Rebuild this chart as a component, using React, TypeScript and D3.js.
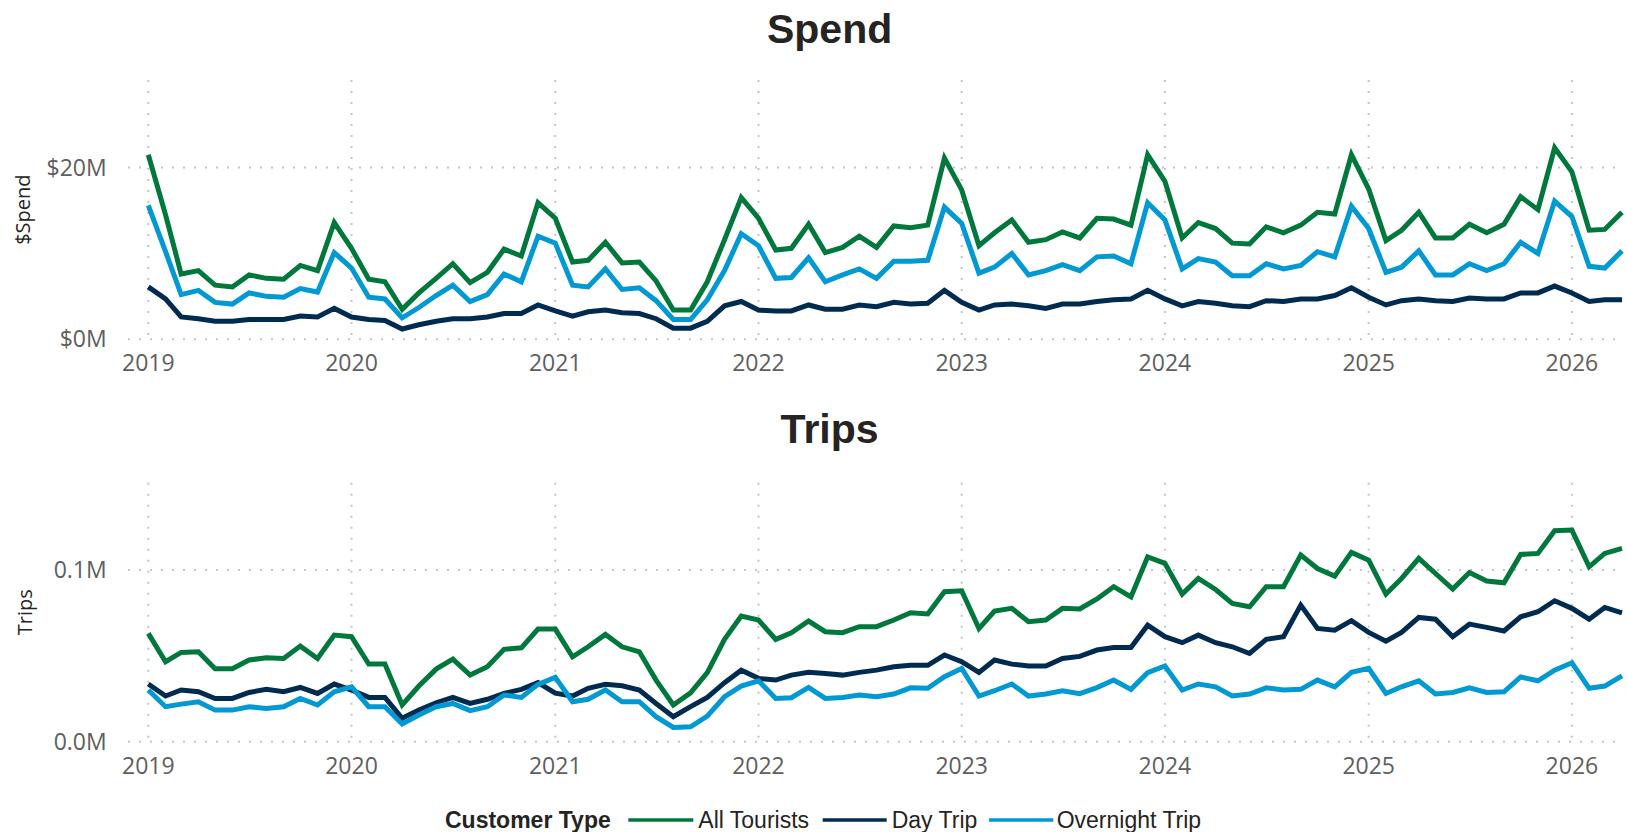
import React from "react";
import * as d3 from "d3";

// Monthly periods Jan 2019 .. Apr 2026
const startYear = 2019;
const monthCount = 88;
const months: Date[] = Array.from({ length: monthCount }, (_, i) =>
  new Date(Date.UTC(startYear + Math.floor(i / 12), i % 12, 1))
);

const yearTicks = [2019, 2020, 2021, 2022, 2023, 2024, 2025, 2026];

const seriesNames = ["All Tourists", "Day Trip", "Overnight Trip"];
const seriesColors = ["#00783C", "#002B50", "#0099D4"];

// Spend ($M)
const spendAll = [
  21.5, 14.5, 7.6, 8.0, 6.3, 6.1, 7.5, 7.1, 7.0, 8.6, 8.0, 13.6,
  10.6, 7.0, 6.7, 3.5, 5.4, 7.1, 8.8, 6.6, 7.8, 10.5, 9.7, 15.9,
  14.1, 9.0, 9.2, 11.3, 8.9, 9.0, 6.8, 3.4, 3.4, 6.7, 11.6, 16.5,
  14.1, 10.4, 10.6, 13.4, 10.1, 10.7, 12.0, 10.7, 13.2, 13.0, 13.3, 21.1,
  17.4, 10.9, 12.4, 13.9, 11.3, 11.6, 12.5, 11.8, 14.1, 14.0, 13.3, 21.5,
  18.4, 11.8, 13.6, 12.9, 11.2, 11.1, 13.1, 12.4, 13.3, 14.8, 14.6, 21.5,
  17.5, 11.5, 12.7, 14.8, 11.8, 11.8, 13.4, 12.4, 13.4, 16.6, 15.1, 22.3,
  19.5, 12.7, 12.8, 14.8,
];
const spendDay = [
  6.1, 4.7, 2.6, 2.4, 2.1, 2.1, 2.3, 2.3, 2.3, 2.7, 2.6, 3.6,
  2.6, 2.3, 2.2, 1.2, 1.7, 2.1, 2.4, 2.4, 2.6, 3.0, 3.0, 4.0,
  3.3, 2.7, 3.2, 3.4, 3.1, 3.0, 2.4, 1.3, 1.3, 2.1, 3.9, 4.4,
  3.4, 3.3, 3.3, 4.0, 3.5, 3.5, 4.0, 3.8, 4.3, 4.1, 4.2, 5.7,
  4.3, 3.4, 4.0, 4.1, 3.9, 3.6, 4.1, 4.1, 4.4, 4.6, 4.7, 5.7,
  4.7, 3.9, 4.4, 4.2, 3.9, 3.8, 4.5, 4.4, 4.7, 4.7, 5.1, 6.0,
  4.9, 4.0, 4.5, 4.7, 4.5, 4.4, 4.8, 4.7, 4.7, 5.4, 5.4, 6.2,
  5.4, 4.4, 4.6, 4.6,
];
const spendOvernight = [
  15.6, 10.2, 5.2, 5.7, 4.3, 4.1, 5.4, 5.0, 4.9, 5.9, 5.5, 10.1,
  8.3, 4.9, 4.7, 2.5, 3.7, 5.1, 6.3, 4.4, 5.2, 7.6, 6.7, 12.0,
  11.2, 6.3, 6.1, 8.2, 5.8, 6.0, 4.5, 2.3, 2.3, 4.6, 8.0, 12.3,
  10.9, 7.1, 7.2, 9.5, 6.7, 7.5, 8.2, 7.1, 9.1, 9.1, 9.2, 15.4,
  13.5, 7.7, 8.4, 10.0, 7.5, 8.0, 8.7, 8.0, 9.6, 9.7, 8.8, 15.9,
  13.9, 8.2, 9.4, 9.0, 7.4, 7.4, 8.8, 8.2, 8.6, 10.2, 9.6, 15.5,
  12.9, 7.8, 8.4, 10.3, 7.5, 7.5, 8.8, 8.0, 8.8, 11.3, 10.0, 16.1,
  14.3, 8.5, 8.3, 10.3,
];

// Trips (thousands)
const tripsAll = [
  63.1, 46.6, 52.0, 52.4, 42.5, 42.5, 47.6, 48.9, 48.5, 55.7, 48.5, 62.1,
  61.2, 45.2, 45.2, 21.4, 32.4, 42.3, 48.1, 38.8, 43.7, 53.8, 54.7, 65.6,
  65.6, 49.5, 55.3, 62.5, 55.3, 52.4, 35.9, 21.4, 28.5, 40.2, 59.6, 73.2,
  70.9, 59.6, 63.5, 70.3, 64.1, 63.5, 67.0, 67.0, 70.9, 75.1, 74.4, 87.4,
  87.9, 66.0, 76.1, 77.7, 69.9, 70.9, 77.7, 77.3, 83.2, 90.3, 84.4, 107.7,
  103.9, 86.0, 95.1, 88.7, 80.6, 78.6, 90.3, 90.3, 108.7, 100.9, 96.5, 110.3,
  105.8, 86.0, 95.1, 106.8, 98.0, 88.9, 98.6, 93.6, 92.6, 109.1, 109.7, 122.9,
  123.3, 101.9, 109.7, 112.6,
];
const tripsDay = [
  33.6, 26.6, 30.1, 29.1, 25.2, 25.2, 28.7, 30.5, 29.1, 31.6, 28.1, 33.6,
  30.1, 25.8, 25.8, 13.6, 18.4, 22.7, 25.8, 22.3, 24.7, 28.1, 30.5, 34.4,
  28.3, 26.6, 31.1, 33.4, 32.6, 30.1, 22.3, 14.6, 20.4, 25.8, 34.4, 41.7,
  36.9, 35.9, 38.8, 40.4, 39.8, 38.8, 40.4, 41.7, 43.7, 44.5, 44.5, 50.5,
  46.6, 40.4, 47.6, 45.2, 44.1, 44.1, 48.5, 49.7, 53.4, 54.9, 54.9, 67.9,
  61.2, 57.7, 62.1, 57.7, 55.3, 51.4, 59.6, 61.2, 79.6, 66.0, 65.0, 70.5,
  63.7, 58.6, 63.7, 72.4, 71.4, 61.2, 68.5, 66.6, 64.5, 72.8, 75.7, 82.1,
  77.7, 71.4, 78.2, 75.1,
];
const tripsOvernight = [
  30.1, 20.4, 21.9, 23.3, 18.4, 18.4, 20.4, 19.4, 20.4, 25.2, 21.4, 29.1,
  32.0, 20.4, 20.4, 10.3, 15.5, 20.4, 22.3, 18.1, 20.4, 27.2, 25.8, 33.4,
  37.5, 23.3, 24.7, 30.1, 23.3, 23.3, 14.6, 8.3, 8.7, 14.9, 26.2, 32.4,
  35.5, 25.2, 25.6, 31.6, 25.2, 25.8, 27.2, 26.2, 27.8, 31.4, 31.1, 37.9,
  42.7, 26.6, 29.7, 33.6, 26.6, 27.8, 29.7, 28.0, 31.5, 35.9, 30.5, 40.2,
  44.1, 30.1, 33.6, 32.0, 26.6, 27.8, 31.4, 30.1, 30.5, 35.9, 32.0, 40.4,
  42.7, 28.1, 32.0, 35.5, 27.8, 28.7, 31.4, 28.7, 29.1, 37.7, 35.5, 41.7,
  46.0, 31.1, 32.4, 38.4,
];

const spendTicks = [0, 20];
const spendTickLabels = ["$0M", "$20M"];
const tripsTicks = [0, 100];
const tripsTickLabels = ["0.0M", "0.1M"];

const W = 1627;
const H = 832;
const tickFont = "'Open Sans', 'Noto Sans', sans-serif";
const titleFont = "'Liberation Sans', Arial, sans-serif";

const x = d3
  .scaleUtc()
  .domain([months[0], months[months.length - 1]])
  .range([148.3, 1622]);

type PanelProps = {
  title: string;
  titleY: number;
  axisTitle: string;
  axisTitleX: number;
  top: number;
  bottom: number;
  yMax: number;
  ticks: number[];
  tickLabels: string[];
  series: number[][];
};

function Panel(p: PanelProps) {
  const y = d3.scaleLinear().domain([0, p.yMax]).range([p.bottom, p.top]);
  const line = d3
    .line<number>()
    .x((_, i) => x(months[i]))
    .y((d) => y(d));
  const midY = (p.top + p.bottom) / 2;
  return (
    <g>
      <text
        x={829.6}
        y={p.titleY}
        textAnchor="middle"
        fontFamily={titleFont}
        fontWeight="bold"
        fontSize={41}
        fill="#252423"
      >
        {p.title}
      </text>
      {/* horizontal gridlines */}
      {p.ticks.map((t) => (
        <line
          key={"h" + t}
          x1={128}
          x2={1624}
          y1={y(t)}
          y2={y(t)}
          stroke="#C8C6C4"
          strokeWidth={2}
          strokeDasharray="2 9"
        />
      ))}
      {/* vertical gridlines */}
      {yearTicks.map((yr) => {
        const xx = x(new Date(Date.UTC(yr, 0, 1)));
        return (
          <line
            key={"v" + yr}
            x1={xx}
            x2={xx}
            y1={p.top}
            y2={p.bottom}
            stroke="#C8C6C4"
            strokeWidth={2}
            strokeDasharray="2 9"
          />
        );
      })}
      {p.ticks.map((t, i) => (
        <text
          key={"yl" + t}
          x={106.7}
          y={y(t)}
          dy="0.35em"
          textAnchor="end"
          fontFamily={tickFont}
          fontSize={23}
          fill="#605E5C"
        >
          {p.tickLabels[i]}
        </text>
      ))}
      {yearTicks.map((yr) => (
        <text
          key={"xl" + yr}
          x={x(new Date(Date.UTC(yr, 0, 1)))}
          y={p.bottom + 32}
          textAnchor="middle"
          fontFamily={tickFont}
          fontSize={23}
          fill="#605E5C"
        >
          {yr}
        </text>
      ))}
      <text
        transform={`translate(${p.axisTitleX},${midY}) rotate(-90)`}
        textAnchor="middle"
        dy="0.35em"
        fontFamily={tickFont}
        fontSize={20}
        fill="#252423"
      >
        {p.axisTitle}
      </text>
      {p.series.map((s, i) => (
        <path
          key={"s" + i}
          d={line(s) || ""}
          fill="none"
          stroke={seriesColors[i]}
          strokeWidth={5}
          strokeLinejoin="miter"
        />
      ))}
    </g>
  );
}

export default function App() {
  const legendItems = [
    { lx1: 628.3, lx2: 693.3, tx: 698.3 },
    { lx1: 822.7, lx2: 886.7, tx: 891.7 },
    { lx1: 989, lx2: 1053.3, tx: 1056.7 },
  ];
  return (
    <svg
      width={W}
      height={H}
      style={{ position: "absolute", left: 0, top: 0, background: "#fff" }}
    >
      <rect x={0} y={0} width={W} height={H} fill="#ffffff" />
      <Panel
        title="Spend"
        titleY={43.3}
        axisTitle="$Spend"
        axisTitleX={23.3}
        top={80}
        bottom={339.3}
        yMax={30.2}
        ticks={spendTicks}
        tickLabels={spendTickLabels}
        series={[spendAll, spendDay, spendOvernight]}
      />
      <Panel
        title="Trips"
        titleY={443.3}
        axisTitle="Trips"
        axisTitleX={25}
        top={482.7}
        bottom={741.7}
        yMax={150.9}
        ticks={tripsTicks}
        tickLabels={tripsTickLabels}
        series={[tripsAll, tripsDay, tripsOvernight]}
      />
      <g fontFamily={titleFont} fontSize={23} fill="#252423">
        <text x={445} y={828.3} fontWeight="bold">
          Customer Type
        </text>
        {seriesNames.map((n, i) => (
          <g key={n}>
            <line
              x1={legendItems[i].lx1}
              x2={legendItems[i].lx2}
              y1={820}
              y2={820}
              stroke={seriesColors[i]}
              strokeWidth={3.5}
            />
            <text x={legendItems[i].tx} y={828.3}>
              {n}
            </text>
          </g>
        ))}
      </g>
    </svg>
  );
}
